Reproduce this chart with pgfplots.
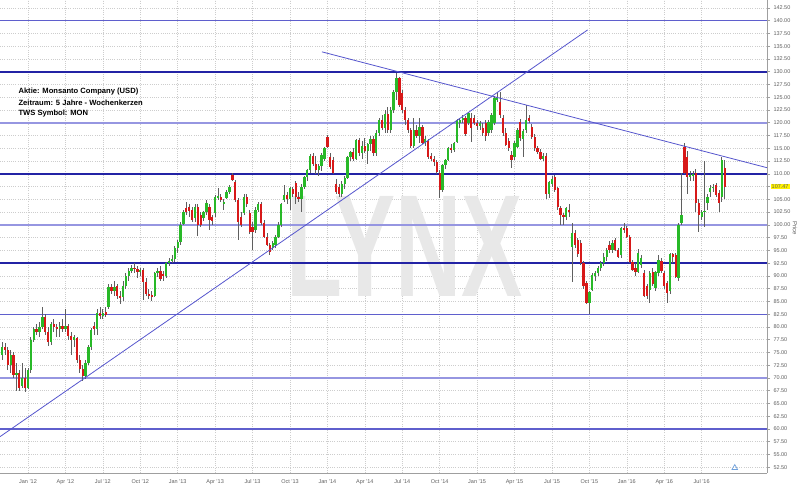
\documentclass[border=0pt]{standalone}
\usepackage{fontspec}
\setmainfont{Liberation Sans}
\usepackage{pgfplots}
\pgfplotsset{compat=1.18}
\usepackage{pgfplotstable}

\definecolor{candleup}{RGB}{40,185,40}
\definecolor{candledn}{RGB}{215,25,25}
\definecolor{wick}{RGB}{95,95,95}
\definecolor{navyline}{RGB}{35,35,165}
\definecolor{midline}{RGB}{95,95,205}
\definecolor{lightline}{RGB}{150,150,225}
\definecolor{trend}{RGB}{85,85,205}
\definecolor{gridgray}{RGB}{205,205,205}
\definecolor{labelgray}{RGB}{95,95,95}

% weekly candles, week 0 = first week of Jan 2012
\pgfplotstableread{
i o h l c
-9 74.5 77 73.5 76
-8 76 76.8 74.5 75.5
-7 75.5 76 71.5 72.5
-6 72.5 75.5 71 74.5
-5 74.5 75 70 70.5
-4 70.5 73 67.5 71
-3 71 71.5 67.5 68
-2 68.5 73 68 70
-1 70 72 67.2 68
0 68 72 67.8 71.5
1 71.5 78 71 77.5
2 77.5 80 77 79.5
3 79.5 80.5 78.5 79
4 79 81 78 80
5 80 84 79.5 82
6 82 82.5 78.5 79
7 79 80 76.2 77
8 77 81 76.5 80.5
9 80.5 81.5 79 80
10 80 80.5 78 79.5
11 79.5 81 78 80.2
12 80.2 81.5 79 79.6
13 79.6 83.5 79 80.2
14 80.2 80.5 77.5 78.3
15 78.3 79 74.5 77.5
16 77.5 78.5 76 78
17 77.8 78 73 73.6
18 73.6 74.5 71 71.8
19 71.8 72.5 69.5 70.3
20 70.3 73.5 69.8 73
21 73 76.5 72.5 76
22 76 79.8 75.5 79.4
23 80.2 81 78.5 79.6
24 79.6 83.5 78.5 82.8
25 82.8 84 81.5 82.2
26 82.2 83.5 81.5 82.8
27 83 84 82 82.3
28 84 88.5 83.5 87.8
29 87.8 88.5 86.5 87
30 87 89 86 87.8
31 88 88.5 85.5 86
32 86 87 84.5 85.8
33 85.8 89 85 88
34 88 90.5 87.5 90
35 90 91.5 89 91
36 91 92.2 90.5 91.6
37 91.6 92.5 90.5 91.4
38 91.4 92 89.5 90.8
39 90.8 91.5 90 91.2
40 91.2 91.5 85.3 88.8
41 88.8 89.5 86 86.5
42 86.5 87.5 85.5 86.2
43 86.2 87 85 86
44 86 90.8 85.8 90.5
45 90.5 91.5 89.8 91
46 91 92 89 89.4
47 90.4 91 89 90
48 90 92.8 89.5 92.5
49 92.5 93.5 92 93
50 93 94 92.5 93.3
51 93.3 95.8 92.8 95.5
52 95.5 97 94.5 96.7
53 96.7 100.5 96 100
54 100.2 103 100 102.5
55 103.3 104.5 102 102.5
56 103.5 104 101.5 102.7
57 103 103.5 100.5 101
58 101.4 104 100.5 103.5
59 103.5 104 97.9 100
60 102 102.5 99.5 100
61 101.4 102.8 100.8 102.5
62 102.5 104.8 102 104.3
63 103.5 104 99 101
64 101.5 102 100 100.8
65 102.3 105.8 101.5 105.5
66 105.3 107.3 104.8 105.6
67 105.5 106 104.5 104.8
68 104 105 103 104.5
69 105.3 106.8 105 106.4
70 106.4 107.8 106 107.4
71 109.8 110.2 108.5 108.8
72 108.4 108.8 104.5 104.8
73 104.8 105.3 97 100.6
74 101.5 102.5 99.5 100
75 102.3 106 102 105.5
76 105.5 106 103.5 104
77 102.3 103 98.3 98.6
78 99.6 100.5 95 98.6
79 99 103.5 98.5 103
80 103 104.5 102.5 104
81 104 104.5 100 100.4
82 100.4 101 97.5 97.7
83 97.7 98.5 95.8 96
84 96 96.5 94 94.7
85 95.5 96.8 95 96.5
86 96 98 95.5 97.7
87 97.7 100.5 97.5 100
88 100 104.3 99.5 104
89 104.8 107.8 104.5 105.8
90 105.8 106.5 104 105
91 105 107.5 103 107.2
92 107 107.5 105.5 106
93 108.2 108.5 104 105.5
94 105.5 106.5 104.5 105
95 105 108 102.5 107.5
96 107.4 109.6 107 109.4
97 109.4 111 108.5 110.7
98 110.7 113.8 110.2 113.5
99 113.5 114 111.5 112
100 112 113.5 110 110.7
101 110.7 112 109.5 111.5
102 111.5 114 110.5 113.7
103 113 115.3 112.5 115
104 117.2 117.6 115 115.3
105 113.3 114 111 111.4
106 112.7 113.2 110 110.2
107 108 109 106 106.5
108 107.5 108 105.5 106
109 106 108.5 105.5 108
110 108 109.5 107 109.2
111 109.2 113.5 109 113.3
112 113.3 114.5 112.5 114.3
113 114.3 115 112.5 113
114 113 116.8 112.8 116.6
115 116.6 117 113.5 114
116 114 116.5 113 115.5
117 115.5 117 114 114.5
118 114.5 116 112 115.8
119 115.8 117.5 114.5 116.8
120 116.8 117.5 113.5 114
121 114 118.5 113.5 118
122 118 121 117.5 120.5
123 120.5 121.5 118.5 119
124 119 122.5 118 121.8
125 121.8 123 118 118.5
126 118.5 123 118 122.5
127 122.5 126.5 122 126
128 126 129.7 124.5 128.8
129 128.8 129 123 123.5
130 125.9 126.5 122 122.5
131 122.5 123 119.5 120.5
132 120.5 121 118 118.5
133 118.5 119 115 115.5
134 115.5 121 115 118.5
135 118.5 119.5 117 117.5
136 117.5 121 116 119.2
137 119.2 119.5 115.8 116
138 116 117.5 115.5 116.8
139 116.5 116.8 113 113.2
140 113.5 114 112.5 113
141 113 113.5 111.5 112.3
142 112.3 112.8 110 110.4
143 110.2 110.8 105.3 106.9
144 106.9 112 106.5 111.8
145 111.8 113 111 112.7
146 112.7 115.2 112.5 115
147 115 115.8 114 114.7
148 114.7 116.3 114.2 116
149 116.2 120.8 116 120.6
150 120 121 119 120.5
151 120.5 121.5 120 121
152 121 121.3 117.5 117.9
153 120 122.2 119.5 121.9
154 121 122 116.3 119
155 121 121.5 119.5 120
156 120 120.5 118.5 119.3
157 119.3 120.3 118.5 120
158 119 120 117.5 118
159 120 120.5 116.5 117.5
160 118 120.5 117.5 120.2
161 118.5 122 118 121.6
162 120 125.2 119.5 124.9
163 124.5 126 124 125
164 124 126 121 121.5
165 121 121.5 117.5 118
166 118 119 115.5 115.7
167 116.5 117 114.5 115
168 113.7 114.5 111.2 112.7
169 113.3 116.5 112.8 116
170 115.3 119 115 118.6
171 120.2 120.8 116.5 117
172 116.8 118.8 113.3 118.3
173 118.6 123.5 118 120.6
174 121 121.5 120 120.3
175 119.2 119.8 116.8 117.2
176 117.2 117.8 114.5 115
177 115 115.5 113.8 114.3
178 114.3 114.8 112.7 113
179 113 114 112.5 113.5
180 113.5 114 105 106
181 106 108.5 105.3 108.4
182 108 109.5 107.5 109
183 109.4 109.8 106.5 106.9
184 107.2 107.5 103 103.5
185 103.3 103.6 100 102
186 102 102.3 100 101.5
187 101.5 103.5 101 103.3
188 103 104 101.5 102.5
189 95.7 100.4 88.9 98.5
190 98.5 99 95.5 96
191 97 97.5 93.8 94.2
192 96.5 97 92.2 92.6
193 92.6 93 87.5 88
194 88.6 89 84.5 84.7
195 84.7 87 82.5 86.9
196 87.3 90.5 87 90.2
197 90 91 89 90.6
198 90.6 92 90 91.6
199 91.6 93 91 92.6
200 92.6 94.5 92 93.8
201 93.8 95.5 93 95
202 96 96.8 94.5 95
203 95 97 94.5 96.5
204 97 97.5 94.8 95
205 95 95.5 93.5 93.8
206 94 99.6 93.5 99.4
207 99.4 100.4 98.5 99
208 99.4 99.8 97.5 97.7
209 97.7 98 92.6 92.8
210 92.8 93.2 91 91.2
211 91.5 92.5 90 90.8
212 90.8 95.2 90.5 94.5
213 92.2 94 91.5 93.5
214 90.6 91.2 85.8 86
215 88 88.5 85.5 86
216 87.3 91 84.7 90.6
217 90.8 91.5 88 88.5
218 87.7 91 87 90.8
219 90.6 94 90 93.2
220 93 93.5 90.5 91
221 90.6 91 87.5 88
222 88.6 89 84.7 86.7
223 87 94.5 86.5 94.2
224 94.2 94.5 92.5 93.8
225 94 94.5 89.5 89.8
226 89.6 100.3 89 100
227 100.4 110.2 100 102
228 115.3 116 110 110.2
229 113.3 114.5 106 109.4
230 109.5 110.5 108.5 109.8
231 109.5 110.5 108.5 110
232 110.2 111 102.5 104.3
233 104.3 105 98.7 102
234 101.6 103 101 102.5
235 102.5 112.5 99.5 102.8
236 104.3 106 103 105.5
237 106.4 107.8 105.5 107.3
238 107.3 108 106.5 107.5
239 107.8 108.3 105.5 105.8
240 106.3 106.8 102.5 104.3
241 105.5 113.3 104.5 112.7
242 111.2 112.8 105 107.47
}\candles

\begin{document}
\begin{tikzpicture}
\begin{axis}[
  scale only axis,
  width=767pt, height=473pt,
  xmin=-9.72, xmax=256.7,
  ymin=51.38, ymax=144.06,
  axis x line=bottom, axis y line=right,
  axis line style={-, draw=gray!75, line width=0.8pt},
  clip=false,
  grid=major,
  major grid style={gridgray, line width=0.6pt, dash pattern=on 1pt off 1.2pt},
  tick align=outside,
  major tick length=3pt,
  ytick={52.5,55,...,105,110,112.5,...,142.5},
  extra y ticks={107.5},
  extra y tick labels={},
  extra y tick style={grid=major},
  ytick style={draw=gray!75, line width=0.6pt},
  yticklabel style={font=\fontsize{5.5}{6}\selectfont, text=labelgray,
    /pgf/number format/.cd, fixed, fixed zerofill, precision=2, assume math mode=true},
  xtick={0,13,...,234},
  xticklabels={\mbox{Jan '12},\mbox{Apr '12},\mbox{Jul '12},\mbox{Oct '12},
    \mbox{Jan '13},\mbox{Apr '13},\mbox{Jul '13},\mbox{Oct '13},
    \mbox{Jan '14},\mbox{Apr '14},\mbox{Jul '14},\mbox{Oct '14},
    \mbox{Jan '15},\mbox{Apr '15},\mbox{Jul '15},\mbox{Oct '15},
    \mbox{Jan '16},\mbox{Apr '16},\mbox{Jul '16}},
  xtick style={draw=none},
  xticklabel style={font=\fontsize{5.5}{6}\selectfont, text=labelgray},
]
\coordinate (bl) at (rel axis cs:0,0);
\coordinate (tr) at (rel axis cs:1,1);

% watermark
\node[text=black!9, inner sep=0pt] at (rel axis cs:0.528,0.478)
  {\resizebox{236pt}{100pt}{\bfseries LYNX}};

% support / resistance levels
\addplot[midline, line width=1.3pt] coordinates {(-9.72,140) (256.7,140)};
\addplot[navyline, line width=1.6pt] coordinates {(-9.72,130) (256.7,130)};
\addplot[lightline, line width=1.5pt] coordinates {(-9.72,120) (256.7,120)};
\addplot[navyline, line width=1.6pt] coordinates {(-9.72,110) (256.7,110)};
\addplot[lightline, line width=1.5pt] coordinates {(-9.72,100) (256.7,100)};
\addplot[navyline, line width=1.6pt] coordinates {(-9.72,92.5) (256.7,92.5)};
\addplot[midline, line width=1.3pt] coordinates {(-9.72,82.5) (256.7,82.5)};
\addplot[lightline, line width=1.5pt] coordinates {(-9.72,70) (256.7,70)};
\addplot[midline, line width=1.3pt] coordinates {(-9.72,60) (256.7,60)};

% wicks
\addplot[draw=none, mark=none, error bars/.cd, y dir=both, y explicit,
  error mark=none, error bar style={draw=wick, line width=0.8pt}]
  table[x=i, y expr={(\thisrow{h}+\thisrow{l})/2},
        y error expr={(\thisrow{h}-\thisrow{l})/2}] {\candles};
% rising bodies
\addplot[draw=none, mark=none,
  restrict expr to domain={\thisrow{c}-\thisrow{o}}{0:1000},
  error bars/.cd, y dir=both, y explicit,
  error mark=none, error bar style={draw=candleup, line width=2.3pt}]
  table[x=i, y expr={(\thisrow{o}+\thisrow{c})/2},
        y error expr={abs(\thisrow{c}-\thisrow{o})/2}] {\candles};
% falling bodies
\addplot[draw=none, mark=none,
  restrict expr to domain={\thisrow{c}-\thisrow{o}}{-1000:-0.0001},
  error bars/.cd, y dir=both, y explicit,
  error mark=none, error bar style={draw=candledn, line width=2.3pt}]
  table[x=i, y expr={(\thisrow{o}+\thisrow{c})/2},
        y error expr={abs(\thisrow{c}-\thisrow{o})/2}] {\candles};

% trend lines
\addplot[trend, line width=0.8pt] coordinates {(-9.72,58.5) (194.4,138.2)};
\addplot[trend, line width=0.8pt] coordinates {(102.1,133.9) (256.7,111.2)};

% event marker
\addplot[only marks, mark=triangle, mark size=3.2pt,
  mark options={draw={rgb,255:red,110;green,160;blue,220}, fill=white, line width=0.7pt}]
  coordinates {(245.5,52.4)};

\node[anchor=base west, inner sep=0pt, font=\fontsize{7.6}{9}\selectfont\bfseries]
  at (rel axis cs:0.0239,0.8027) {Aktie: Monsanto Company (USD)};
\node[anchor=base west, inner sep=0pt, font=\fontsize{7.6}{9}\selectfont\bfseries]
  at (rel axis cs:0.0239,0.778) {Zeitraum: 5 Jahre - Wochenkerzen};
\node[anchor=base west, inner sep=0pt, font=\fontsize{7.6}{9}\selectfont\bfseries]
  at (rel axis cs:0.0239,0.7554) {TWS Symbol: MON};

% last price tag and axis title
\node[anchor=west, fill=yellow, inner xsep=1pt, inner ysep=0.8pt, xshift=3.5pt,
  font=\fontsize{5.5}{6}\selectfont, text=labelgray] at (axis cs:256.7,107.47) {107.47};
\node[rotate=-90, font=\fontsize{6}{7}\selectfont, text=labelgray]
  at (rel axis cs:1.0365,0.518) {Price};
\end{axis}
\pgfresetboundingbox
\path[use as bounding box] (bl) ++(0,-13pt) rectangle ([xshift=33pt]tr);
\end{tikzpicture}
\end{document}
